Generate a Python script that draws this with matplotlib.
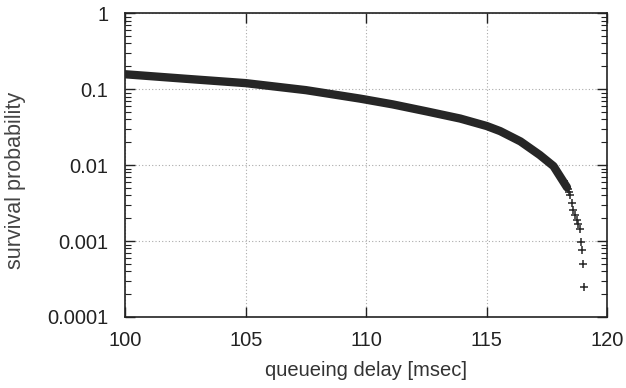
import matplotlib
matplotlib.use('Agg')
import matplotlib.pyplot as plt
from matplotlib.ticker import FixedLocator, LogLocator, NullFormatter

# values (queueing delay in msec, survival probability)
delay_body = [100.0, 102.5, 105.0, 107.5, 109.75, 111.1, 112.5, 113.9, 115.0,
              115.56, 116.4, 117.2, 117.77, 118.33]
surv_body = [0.157, 0.137, 0.120, 0.097, 0.075, 0.063, 0.051, 0.041, 0.0327,
             0.028, 0.0205, 0.0136, 0.0097, 0.0051]

delay_tail = [118.2, 118.28, 118.36, 118.42, 118.47, 118.54, 118.6, 118.68,
              118.75, 118.8, 118.85, 118.92, 118.95, 118.98, 119.02]
surv_tail = [0.0062, 0.0055, 0.0048, 0.0044, 0.0040, 0.0032, 0.0026, 0.0022,
             0.0019, 0.0017, 0.00145, 0.00097, 0.00076, 0.00050, 0.00025]

x_ticks = [100, 105, 110, 115, 120]
y_ticks = [0.0001, 0.001, 0.01, 0.1, 1]
y_tick_labels = ['0.0001', '0.001', '0.01', '0.1', '1']

plt.rcParams['font.family'] = ['Liberation Sans', 'DejaVu Sans']

fig = plt.figure(figsize=(6.26, 3.88), dpi=100)
ax = fig.add_axes([0.2, 0.183, 0.77, 0.783])

ax.plot(delay_body, surv_body, color='#262626', lw=6, solid_capstyle='round',
        solid_joinstyle='round', zorder=3)
ax.plot(delay_tail, surv_tail, ls='none', marker='+', ms=6, mew=1.1,
        color='#262626', zorder=3)

ax.set_yscale('log')
ax.set_xlim(100, 120)
ax.set_ylim(0.0001, 1)

ax.xaxis.set_major_locator(FixedLocator(x_ticks))
ax.set_xticklabels([str(t) for t in x_ticks])
ax.yaxis.set_major_locator(FixedLocator(y_ticks))
ax.set_yticklabels(y_tick_labels)
ax.yaxis.set_minor_locator(LogLocator(base=10, subs=range(2, 10)))
ax.yaxis.set_minor_formatter(NullFormatter())

ax.tick_params(which='both', direction='in', top=True, right=True,
               labelsize=14.5, colors='#222222')
ax.tick_params(which='major', length=7, width=1)
ax.tick_params(which='minor', length=4, width=0.8)
ax.tick_params(axis='x', pad=10)
ax.tick_params(axis='y', pad=12)

ax.grid(which='major', color='#aaaaaa', ls=(0, (1, 2)), lw=0.8)
for s in ax.spines.values():
    s.set_linewidth(1.2)
    s.set_color('#222222')

ax.set_xlabel('queueing delay [msec]', fontsize=14.5, color='#333333', labelpad=8)
ax.set_ylabel('survival probability', fontsize=15.5, color='#444444')
ax.yaxis.set_label_coords(-0.205, 0.451)

fig.savefig('out.png', dpi=100)
